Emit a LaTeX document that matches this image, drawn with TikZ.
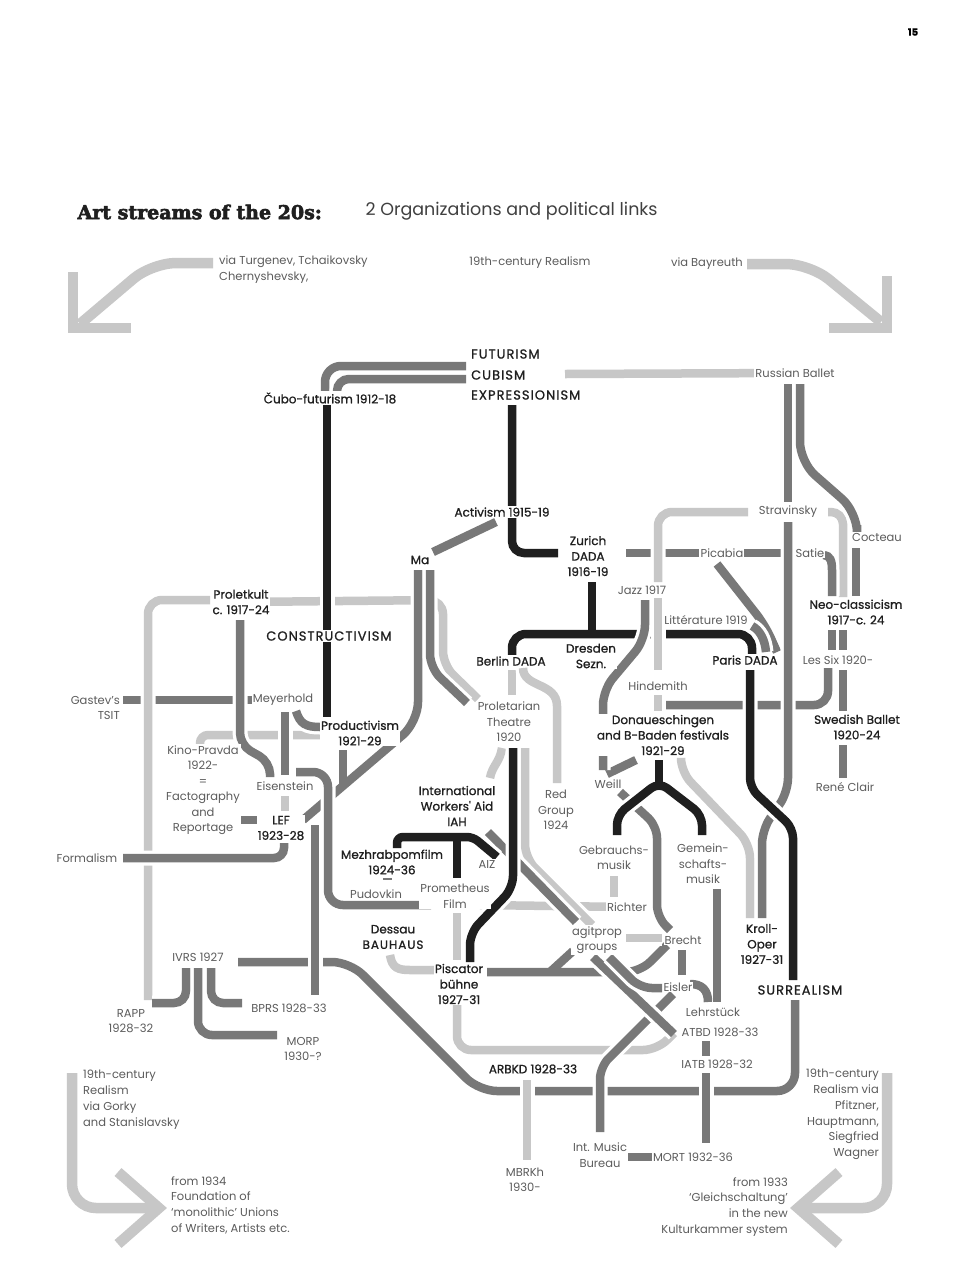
\documentclass[tikz,border=0pt]{standalone}
\usepackage{fontspec}
\setmainfont{Poppins}
\newfontfamily\medfont{Poppins}[FakeBold=1]
\newfontfamily\capsfont{Poppins}[FakeBold=1, LetterSpace=8]
\newfontfamily\titlefont{DejaVu Serif}[BoldFeatures={FakeBold=3}]
\usetikzlibrary{backgrounds}

\definecolor{inkdk}{gray}{0.12}
\definecolor{inkmd}{gray}{0.47}
\definecolor{inklt}{gray}{0.78}
\definecolor{txtgr}{gray}{0.36}

\begin{document}
\begin{tikzpicture}[
                x=1pt,
                y=-1pt,
                lbl/.style={
                    fill=white,
                    inner sep=1pt,
                    align=center
                },
                blk/.style={
                    lbl,
                    text=inkdk,
                    font=\medfont\fontsize{12}{15.5}\selectfont
                },
                caps/.style={
                    lbl,
                    text=inkdk,
                    font=\capsfont\fontsize{13}{15.5}\selectfont
                },
                gry/.style={
                    lbl,
                    text=txtgr,
                    font=\fontsize{11.5}{15.5}\selectfont
                },
                note/.style={
                    text=txtgr,
                    inner sep=0pt,
                    font=\fontsize{11.5}{15.8}\selectfont
                },
                strand/.style={
                    line width=8.5pt,
                    preaction={draw=white, line width=15pt}
                },
                dk/.style={strand, draw=inkdk},
                md/.style={strand, draw=inkmd},
                lt/.style={strand, draw=inklt},
                dkb/.style={draw=inkdk, line width=8.5pt},
                mdb/.style={draw=inkmd, line width=8.5pt},
                wide/.style={draw=inklt, line width=10.5pt, line join=miter},
                rc/.style={rounded corners=#1},
                rc/.default=14pt
            ]

        \useasboundingbox (0,0) rectangle (962,1283);

        % heading
        \node[font=\medfont\bfseries\fontsize{10}{10}\selectfont] (page) at (913,32) {15};
        \node[anchor=west, text=inkdk,
              font=\titlefont\bfseries\fontsize{19}{20}\selectfont]
              (title) at (74,212) {Art streams of the 20s:};
        \node[anchor=west, text=black!75,
              font=\fontsize{17.5}{20}\selectfont]
              (subtitle) at (362,211) {2 Organizations and political links};

        % notes round the edge
        \node[note, anchor=north west, align=left] (turgenev) at (219,256)
            {via Turgenev, Tchaikovsky\\Chernyshevsky,};
        \node[note] (realism) at (530,263) {19th-century Realism};
        \node[note, anchor=east] (bayreuth) at (743,264) {via Bayreuth};
        \node[note, anchor=north west, align=left] (gorky) at (83,1070)
            {19th-century\\Realism\\via Gorky\\and Stanislavsky};
        \node[note, anchor=north west, align=left] (unions) at (171,1176)
            {from 1934\\Foundation of\\`monolithic' Unions\\of Writers, Artists etc.};
        \node[note, anchor=north east, align=right] (pfitzner) at (879,1069)
            {19th-century\\Realism via\\Pfitzner,\\Hauptmann,\\Siegfried\\Wagner};
        \node[note, anchor=north east, align=right] (kammer) at (788,1177)
            {from 1933\\`Gleichschaltung'\\in the new\\Kulturkammer system};

        % stations
        \node[caps, anchor=west] (futur) at (470,354) {FUTURISM};
        \node[caps, anchor=west] (cubism) at (470,375) {CUBISM};
        \node[caps, anchor=west] (expr) at (470,395) {EXPRESSIONISM};
        \node[blk] (cubofut) at (330,398) {\v{C}ubo-futurism 1912-18};
        \node[gry] (rusballet) at (795,373) {Russian Ballet};
        \node[blk] (activism) at (502,512) {Activism 1915-19};
        \node[blk] (ma) at (420,560) {Ma};
        \node[blk] (zurich) at (588,556) {Zurich\\DADA\\1916-19};
        \node[gry] (stravinsky) at (788,512) {Stravinsky};
        \node[gry] (cocteau) at (877,537) {Cocteau};
        \node[gry] (picabia) at (722,553) {Picabia};
        \node[gry] (satie) at (810,553) {Satie};
        \node[gry] (jazz) at (642,590) {Jazz 1917};
        \node[gry] (litt) at (706,620) {Littérature 1919};
        \node[blk] (neoclass) at (856,612) {Neo-classicism\\1917-c. 24};
        \node[blk] (proletkult) at (241,602) {Proletkult\\c. 1917-24};
        \node[caps] (constr) at (329,636) {CONSTRUCTIVISM};
        \node[blk] (berlin) at (511,661) {Berlin DADA};
        \node[blk] (dresden) at (591,656) {Dresden\\Sezn.};
        \node[blk] (paris) at (745,660) {Paris DADA};
        \node[gry] (lessix) at (838,660) {Les Six 1920-};
        \node[gry] (hindemith) at (658,686) {Hindemith};
        \node[gry, anchor=east, align=right] (gastev) at (121,708) {Gastev's\\TSIT};
        \node[gry] (meyerhold) at (283,700) {Meyerhold};
        \node[gry] (prolth) at (509,722) {Proletarian\\Theatre\\1920};
        \node[blk] (productiv) at (360,733) {Productivism\\1921-29};
        \node[blk] (donau) at (663,735) {Donaueschingen\\and B-Baden festivals\\1921-29};
        \node[blk] (swedish) at (857,727) {Swedish Ballet\\1920-24};
        \node[gry] (kino) at (203,790) {Kino-Pravda\\1922-\\=\\Factography\\and\\Reportage};
        \node[gry] (eisenstein) at (285,786) {Eisenstein};
        \node[gry] (weill) at (608,784) {Weill};
        \node[gry] (clair) at (845,787) {René Clair};
        \node[blk] (iah) at (457,806) {International\\Workers' Aid\\IAH};
        \node[gry] (redgroup) at (556,810) {Red\\Group\\1924};
        \node[blk] (lef) at (281,828) {LEF\\1923-28};
        \node[gry] (gebrauch) at (614,858) {Gebrauchs-\\musik};
        \node[gry] (gemein) at (703,864) {Gemein-\\schafts-\\musik};
        \node[gry] (formalism) at (87,858) {Formalism};
        \node[blk] (mezhrab) at (392,862) {Mezhrabpomfilm\\1924-36};
        \node[gry] (aiz) at (487,864) {AIZ};
        \node[gry] (pudovkin) at (376,894) {Pudovkin};
        \node[gry] (prometh) at (455,896) {Prometheus\\Film};
        \node[gry] (richter) at (627,907) {Richter};
        \node[blk] (dessau) at (393,937) {Dessau\\{\capsfont BAUHAUS}};
        \node[gry] (agitprop) at (597,940) {agitprop\\groups};
        \node[gry] (brecht) at (683,940) {Brecht};
        \node[blk] (kroll) at (762,944) {Kroll-\\Oper\\1927-31};
        \node[gry] (ivrs) at (198,957) {IVRS 1927};
        \node[blk] (piscator) at (459,984) {Piscator\\bühne\\1927-31};
        \node[gry] (eisler) at (678,987) {Eisler};
        \node[caps] (surreal) at (800,990) {SURREALISM};
        \node[gry] (bprs) at (289,1008) {BPRS 1928-33};
        \node[gry] (lehr) at (713,1012) {Lehrstück};
        \node[gry] (rapp) at (131,1021) {RAPP\\1928-32};
        \node[gry] (atbd) at (720,1032) {ATBD 1928-33};
        \node[gry] (morp) at (303,1049) {MORP\\1930-?};
        \node[gry] (iatb) at (717,1064) {IATB 1928-32};
        \node[blk] (arbkd) at (533,1069) {ARBKD 1928-33};
        \node[gry] (musbureau) at (600,1155) {Int. Music\\Bureau};
        \node[gry] (mort) at (693,1157) {MORT 1932-36};
        \node[gry] (mbrkh) at (525,1180) {MBRKh\\1930-};

        \begin{scope}[on background layer]
            \fill[white] (0,0) rectangle (962,1283);

            % big arrows
            \draw[wide, rc=24pt] (213,263) -- (152,263) -- (80,324);
            \draw[wide] (73,272) -- (73,328) -- (131,328);
            \draw[wide, rc=24pt] (747,264) -- (810,264) -- (881,322);
            \draw[wide] (887,276) -- (887,328) -- (829,328);
            \draw[wide, rc=24pt] (72,1073) -- (72,1208) -- (155,1208);
            \draw[wide] (118,1172) -- (159,1208) -- (118,1244);
            \draw[wide, rc=24pt] (887,1073) -- (887,1208) -- (802,1208);
            \draw[wide] (839,1172) -- (798,1208) -- (839,1244);

            % lower strands
            \draw[lt, rc] (proletkult.center) -- (443,600) -- (443,665) -- (478,699);
            \draw[lt, rc=8pt] (200,748) -- (200,735) -- (321,735);
            \draw[md] (123,700) -- (meyerhold);
            \draw[dk, rc] (512,655) -- (512,634) -- (752,634) -- (752,655);
            \draw[md] (626,553) -- (picabia);
            \draw[md, rc] (828,668) -- (828,705) -- (665,705);
            \draw[lt] (richter) -- (480,905);
            \draw[md, rc=18pt] (238,962) -- (350,962) -- (479,1091) -- (795,1091) -- (795,1000);
            \draw[md, rc] (487,972) -- (640,972) -- (667,945);
            \draw[lt, rc] (457,1005) -- (457,1050) -- (657,1050) -- (674,1033);
            \draw[md, rc=20pt] (418,570) -- (418,722) -- (303,820);
            \draw[md] (744,553) -- (790,553);

            % light strands
            \draw[lt] (565,374) -- (rusballet);
            \draw[lt, rc] (210,600) -- (148,600) -- (148,1000);
            \draw[lt] (285,796) -- (285,811);
            \draw[lt] (512,670) -- (512,695);
            \draw[lt] (523,668) .. controls (523,688) and (557,682) .. (557,706) -- (557,783);
            \draw[lt] (502,748) .. controls (500,762) and (492,766) .. (490,778);
            \draw[lt, rc] (525,748) -- (525,858) -- (592,925);
            \draw[lt] (457,913) -- (457,960);
            \draw[lt] (390,955) .. controls (392,968) and (398,970) .. (410,970) -- (434,970);
            \draw[lt] (626,938) -- (662,938);
            \draw[lt] (614,876) -- (614,897);
            \draw[lt, rc] (748,512) -- (658,512) -- (658,582);
            \draw[lt] (658,598) -- (658,670);
            \draw[lt] (658,695) -- (658,711);
            \draw[lt, rc=12pt] (828,512) -- (843,512) -- (843,597);
            \draw[lt, rc] (681,760) -- (681,772) -- (750,844) -- (750,918);
            \draw[lt] (527,1080) -- (527,1160);

            % middle strands
            \draw[md, rc=16pt] (466,366) -- (325,366) -- (325,392);
            \draw[md, rc=12pt] (466,379) -- (337,379) -- (337,392);
            \draw[md] (496,522) -- (433,552);
            \draw[md, rc] (430,570) -- (430,668) -- (467,703);
            \draw[md, rc=12pt] (240,620) -- (240,745) -- (270,762) -- (270,777);
            \draw[md] (285,712) -- (285,775);
            \draw[md] (296,711) .. controls (300,724) and (306,727) .. (320,727);
            \draw[md] (233,820) -- (263,820);
            \draw[md, rc=10pt] (123,858) -- (284,858) -- (284,843);
            \draw[mdb] (343,750) -- (343,784);
            \draw[md, rc=15pt] (296,772) -- (328,772) -- (328,905) -- (431,905);
            \draw[draw=inkmd, line width=2.5pt] (383,879) -- (392,879);
            \draw[md] (315,825) -- (315,995);
            \draw[md, rc=12pt] (186,968) -- (186,1003) -- (152,1003);
            \draw[md, rc=14pt] (198,968) -- (198,1035) -- (277,1035);
            \draw[md, rc=12pt] (211,968) -- (211,1003) -- (242,1003);
            \draw[md, rc=12pt] (673,994) -- (600,1067) -- (600,1132);
            \draw[md] (656,1157) -- (628,1157);
            \draw[md] (706,1041) -- (706,1056);
            \draw[md] (706,1073) -- (706,1143);
            \draw[md] (717,889) -- (717,1002);
            \draw[mdb] (690,984) .. controls (702,984) and (708,990) .. (708,1002);
            \draw[md] (682,950) -- (682,975);
            \draw[mdb] (550,972) -- (573,951);
            \draw[md] (488,832) -- (576,922);
            \draw[md] (593,957) -- (674,1034);
            \draw[md, rc=12pt] (609,957) -- (640,988) -- (662,988);
            \draw[md, rc=12pt] (620,792) -- (657,826) -- (657,917) -- (670,930);
            \draw[md] (607,774) -- (636,760);
            \draw[md, rc=15pt] (645,600) -- (645,640) -- (603,690) -- (603,770);
            \draw[md, rc=14pt] (717,564) -- (765,625) -- (777,652);
            \draw[md] (752,626) .. controls (760,630) and (765,640) .. (766,652);
            \draw[md] (788,384) -- (788,502);
            \draw[md, rc=20pt] (800,384) -- (800,462) -- (857,512) -- (857,525);
            \draw[md] (856,548) -- (856,596);
            \draw[md] (824,555) .. controls (830,556) and (832,560) .. (832,570) -- (832,596);
            \draw[md] (832,630) -- (832,650);
            \draw[md] (843,630) -- (843,650);
            \draw[md] (843,670) -- (843,711);
            \draw[md] (843,745) -- (843,778);
            \draw[md, rc] (788,522) -- (788,792) -- (762,830) -- (762,918);

            % dark strands
            \draw[dk] (327,405) -- (327,717);
            \draw[dk, rc=12pt] (512,405) -- (512,553) -- (558,553);
            \draw[dkb] (592,582) -- (592,634);
            \draw[dk, rc=10pt] (750,670) -- (750,788) -- (793,828) -- (793,980);
            \draw[dk, rc=10pt] (617,835) -- (617,815) -- (659,782) -- (702,815) -- (702,835);
            \draw[dkb] (659,760) -- (659,783);
            \draw[dk, rc=12pt] (513,748) -- (513,888) -- (470,933) -- (470,962);
            \draw[dk, rc=6pt] (397,848) -- (397,837) -- (473,837) -- (497,857);
            \draw[dkb] (457,837) -- (457,878);
        \end{scope}

            \end{tikzpicture}
\end{document}
